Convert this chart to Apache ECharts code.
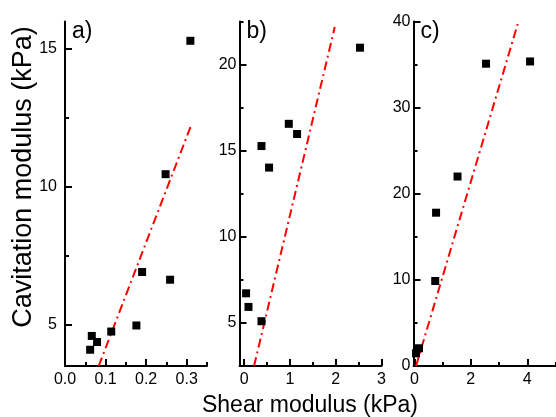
<!DOCTYPE html>
<html>
<head>
<meta charset="utf-8">
<script src="https://cdn.jsdelivr.net/npm/echarts@6/dist/echarts.min.js"></script>
<style>html,body{margin:0;padding:0;background:#fff}#c{width:556px;height:417px}</style>
</head>
<body>
<div id="c"></div>
<script>
// ---- data ----
var panelLabels = ['a)', 'b)', 'c)'];
var xAxisName = 'Shear modulus (kPa)';
var yAxisName = 'Cavitation modulus (kPa)';

var aX = [0.062, 0.066, 0.079, 0.114, 0.176, 0.19, 0.248, 0.259, 0.309];
var aY = [4.09, 4.59, 4.37, 4.75, 4.97, 6.91, 10.46, 6.63, 15.3];
var aFitX = [0.083, 0.31];
var aFitY = [3.5, 12.2];

var bX = [0.044, 0.096, 0.38, 0.38, 0.546, 0.976, 1.157, 2.53];
var bY = [6.72, 5.93, 5.10, 15.27, 14.02, 16.56, 15.97, 20.98];
var bFitX = [0.218, 1.98];
var bFitY = [2.5, 22.18];

var cX = [0.06, 0.165, 0.74, 0.77, 1.53, 2.54, 4.1];
var cY = [1.47, 2.06, 9.87, 17.8, 22.0, 35.1, 35.36];
var cFitX = [0.06, 3.66];
var cFitY = [0.0, 39.7];

// tick values / labels
var aXTicks = [0, 0.1, 0.2, 0.3];
var aXTickLabels = ['0.0', '0.1', '0.2', '0.3'];
var aXMinor = [0.05, 0.15, 0.25, 0.35];
var aYTicks = [5, 10, 15];
var aYMinor = [7.5, 12.5];

var bXTicks = [0, 1, 2, 3];
var bXMinor = [0.5, 1.5, 2.5];
var bYTicks = [5, 10, 15, 20];
var bYMinor = [2.5, 7.5, 12.5, 17.5, 22.5];

var cXTicks = [0, 2, 4];
var cXMinor = [1, 3, 5];
var cYTicks = [0, 10, 20, 30, 40];
var cYMinor = [5, 15, 25, 35];

// ---- build ----
var FONT = '"Liberation Sans", Arial, sans-serif';
function pairs(xs, ys) { return xs.map(function (x, i) { return [x, ys[i]]; }); }

var panels = [
  { left: 65, xr: [0, 0.35], yr: [3.5, 16], xt: aXTicks, xl: aXTickLabels, xm: aXMinor, yt: aYTicks, ym: aYMinor, ylm: 8,
    pts: pairs(aX, aY), fit: pairs(aFitX, aFitY) },
  { left: 239.5, xr: [-0.1, 3], yr: [2.5, 22.5], xt: bXTicks, xl: null, xm: bXMinor, yt: bYTicks, ym: bYMinor, ylm: 3,
    pts: pairs(bX, bY), fit: pairs(bFitX, bFitY) },
  { left: 413.5, xr: [-0.03, 5], yr: [0, 40], xt: cXTicks, xl: null, xm: cXMinor, yt: cYTicks, ym: cYMinor, ylm: 3,
    pts: pairs(cX, cY), fit: pairs(cFitX, cFitY) }
];

var TOP = 21.5, H = 344.5, W = 142;
var grids = [], xAxes = [], yAxes = [], series = [], graphics = [];
function lineSt(c) { return { color: c, width: 2 }; }

panels.forEach(function (p, i) {
  var g0 = grids.length;
  grids.push({ left: p.left, top: TOP, width: W, height: H });
  grids.push({ left: p.left, top: TOP, width: W, height: H });
  var xl = p.xl;
  var ai = xAxes.length;
  // main axes: line, labels, major ticks
  xAxes.push({
    gridIndex: g0, type: 'value', min: p.xr[0], max: p.xr[1],
    axisLine: { show: true, onZero: false, lineStyle: lineSt('#000') },
    axisTick: { show: true, inside: true, length: 7, customValues: p.xt, lineStyle: lineSt('#000') },
    axisLabel: { show: true, margin: 6, color: '#000', fontSize: 16, fontFamily: FONT, customValues: p.xt,
      formatter: function (v) { if (xl) { var k = p.xt.indexOf(v); if (k >= 0) return xl[k]; } return String(v); } },
    splitLine: { show: false }
  });
  yAxes.push({
    gridIndex: g0, type: 'value', min: p.yr[0], max: p.yr[1],
    axisLine: { show: true, onZero: false, lineStyle: lineSt('#000') },
    axisTick: { show: true, inside: true, length: 7, customValues: p.yt, lineStyle: lineSt('#000') },
    axisLabel: { show: true, margin: p.ylm, color: '#000', fontSize: 16, fontFamily: FONT, customValues: p.yt },
    splitLine: { show: false }
  });
  // overlay axes: minor ticks only
  xAxes.push({
    gridIndex: g0 + 1, type: 'value', min: p.xr[0], max: p.xr[1],
    axisLine: { show: false, onZero: false },
    axisTick: { show: true, inside: true, length: 4, customValues: p.xm, lineStyle: lineSt('#000') },
    axisLabel: { show: false }, splitLine: { show: false }
  });
  yAxes.push({
    gridIndex: g0 + 1, type: 'value', min: p.yr[0], max: p.yr[1],
    axisLine: { show: false, onZero: false },
    axisTick: { show: true, inside: true, length: 4, customValues: p.ym, lineStyle: lineSt('#000') },
    axisLabel: { show: false }, splitLine: { show: false }
  });

  series.push({
    type: 'line', xAxisIndex: ai, yAxisIndex: ai, data: p.fit, symbol: 'none', silent: true,
    lineStyle: { color: '#ff0000', width: 2, type: [9, 4, 2, 4] }, z: 2
  });
  series.push({
    type: 'scatter', xAxisIndex: ai, yAxisIndex: ai, data: p.pts, symbol: 'rect', symbolSize: 8,
    itemStyle: { color: '#000', opacity: 1 }, z: 3
  });
  // empty series so the minor-tick overlay axes are rendered
  series.push({ type: 'scatter', xAxisIndex: ai + 1, yAxisIndex: ai + 1, data: [], silent: true });

  graphics.push({
    type: 'text', left: p.left + 7, top: 20,
    style: { text: panelLabels[i], fontSize: 23, fontFamily: FONT, fill: '#000' }
  });
});

graphics.push({
  type: 'text', x: 24, y: 177, rotation: Math.PI / 2,
  style: { text: yAxisName, fontSize: 27, fontFamily: FONT, fill: '#000', textAlign: 'center', textVerticalAlign: 'middle' }
});
graphics.push({
  type: 'text', x: 310, y: 406,
  style: { text: xAxisName, fontSize: 23, fontFamily: FONT, fill: '#000', textAlign: 'center', textVerticalAlign: 'middle' }
});

var chart = echarts.init(document.getElementById('c'));
chart.setOption({
  animation: false,
  backgroundColor: '#fff',
  grid: grids,
  xAxis: xAxes,
  yAxis: yAxes,
  series: series,
  graphic: graphics
});
</script>
</body>
</html>
